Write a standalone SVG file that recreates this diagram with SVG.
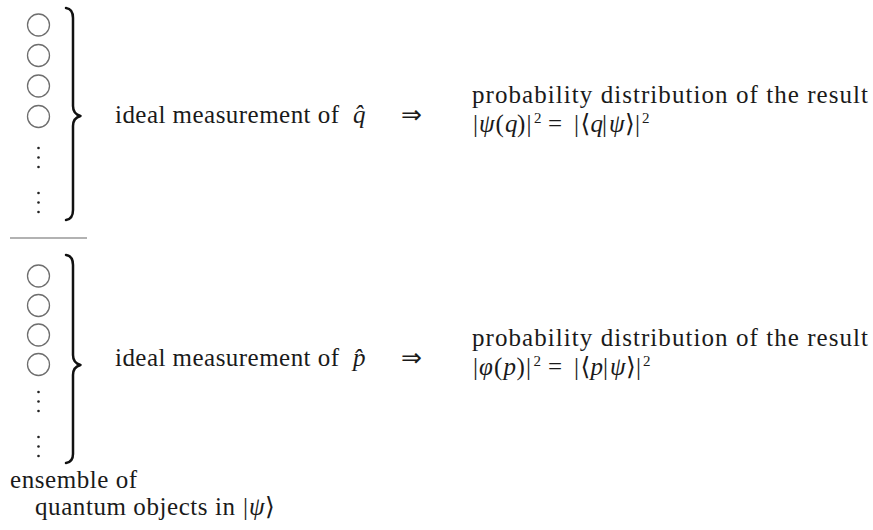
<svg xmlns="http://www.w3.org/2000/svg" width="873" height="530" viewBox="0 0 873 530" font-family="'Liberation Serif', 'DejaVu Serif', serif">
<style>
text{font-family:'Liberation Serif','DejaVu Serif',serif;font-size:25px;fill:#1a1a1a}
.i{font-style:italic}
.sup{font-size:15px}
.arr{font-family:'DejaVu Sans',sans-serif;font-size:25px}
.c{fill:none;stroke:#6e6e6e;stroke-width:1.3}
.d{fill:#222}
.brace{fill:none;stroke:#111;stroke-width:2.5;stroke-linecap:round;stroke-linejoin:round}
.sep{stroke:#999;stroke-width:1.3}
</style>
<rect width="873" height="530" fill="#fff"/>
<g id="ensemble-q">
<circle class="c" cx="38.5" cy="25" r="11"/>
<circle class="c" cx="38.5" cy="55.5" r="11"/>
<circle class="c" cx="38.5" cy="86" r="11"/>
<circle class="c" cx="38.5" cy="116.5" r="11"/>
<circle class="d" cx="38.5" cy="148" r="1.3"/>
<circle class="d" cx="38.5" cy="157.5" r="1.3"/>
<circle class="d" cx="38.5" cy="167" r="1.3"/>
<circle class="d" cx="38.5" cy="193" r="1.3"/>
<circle class="d" cx="38.5" cy="202.5" r="1.3"/>
<circle class="d" cx="38.5" cy="212" r="1.3"/>
<path class="brace" d="M66,8 Q73,9 73,18 L73,106 Q73,114 80.5,116 Q73,118 73,126 L73,210 Q73,219 66,220"/>
</g>
<line class="sep" x1="10" y1="238" x2="87" y2="238"/>
<g id="ensemble-p">
<circle class="c" cx="38.5" cy="276" r="11"/>
<circle class="c" cx="38.5" cy="305.5" r="11"/>
<circle class="c" cx="38.5" cy="335" r="11"/>
<circle class="c" cx="38.5" cy="364.5" r="11"/>
<circle class="d" cx="38.5" cy="392" r="1.3"/>
<circle class="d" cx="38.5" cy="401.5" r="1.3"/>
<circle class="d" cx="38.5" cy="411" r="1.3"/>
<circle class="d" cx="38.5" cy="437" r="1.3"/>
<circle class="d" cx="38.5" cy="446.5" r="1.3"/>
<circle class="d" cx="38.5" cy="456" r="1.3"/>
<path class="brace" d="M66,255 Q73,256 73,265 L73,355 Q73,363 80.5,365 Q73,367 73,375 L73,454 Q73,462 66,463"/>
</g>
<g id="measure-q">
<text x="115" y="123" textLength="224" lengthAdjust="spacing">ideal measurement of</text>
<text x="353" y="123" class="i">q̂</text>
<text x="401" y="123" class="arr">⇒</text>
</g>
<g id="result-q">
<text x="472" y="103" textLength="396" lengthAdjust="spacing">probability distribution of the result</text>
<text y="132"><tspan x="473">|</tspan><tspan x="479" class="i">ψ</tspan><tspan x="495.5">(</tspan><tspan x="505" class="i">q</tspan><tspan x="517">)</tspan><tspan x="526.5">|</tspan><tspan x="534" class="sup" dy="-9">2</tspan><tspan x="548" dy="9">=</tspan><tspan x="574">|</tspan><tspan x="580.5">⟨</tspan><tspan x="590.5" class="i">q</tspan><tspan x="602">|</tspan><tspan x="609" class="i">ψ</tspan><tspan x="625">⟩</tspan><tspan x="635">|</tspan><tspan x="642" class="sup" dy="-9">2</tspan></text>
</g>
<g id="measure-p">
<text x="115" y="366" textLength="224" lengthAdjust="spacing">ideal measurement of</text>
<text x="353" y="366" class="i">p̂</text>
<text x="401" y="366" class="arr">⇒</text>
</g>
<g id="result-p">
<text x="472" y="345.5" textLength="396" lengthAdjust="spacing">probability distribution of the result</text>
<text y="374.5"><tspan x="473">|</tspan><tspan x="479" class="i">φ</tspan><tspan x="494">(</tspan><tspan x="503.5" class="i">p</tspan><tspan x="516.5">)</tspan><tspan x="526">|</tspan><tspan x="533.5" class="sup" dy="-9">2</tspan><tspan x="548" dy="9">=</tspan><tspan x="574">|</tspan><tspan x="580.5">⟨</tspan><tspan x="590.5" class="i">p</tspan><tspan x="603">|</tspan><tspan x="610" class="i">ψ</tspan><tspan x="626">⟩</tspan><tspan x="636">|</tspan><tspan x="643" class="sup" dy="-9">2</tspan></text>
</g>
<g id="caption">
<text x="10" y="488" textLength="127" lengthAdjust="spacing">ensemble of</text>
<text y="515"><tspan x="35" textLength="200" lengthAdjust="spacing">quantum objects in</tspan><tspan x="243">|</tspan><tspan x="249" class="i">ψ</tspan><tspan x="265">⟩</tspan></text>
</g>
</svg>
